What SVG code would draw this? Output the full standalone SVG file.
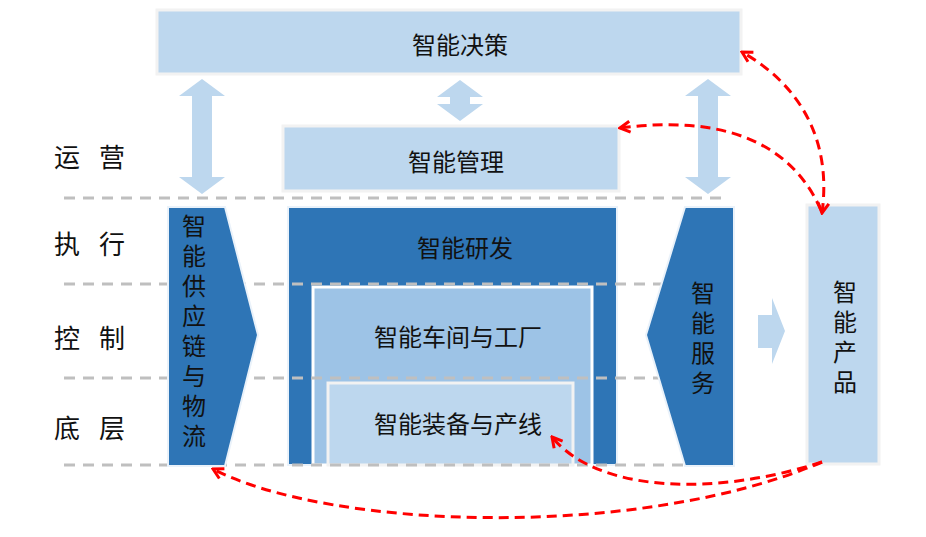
<svg xmlns="http://www.w3.org/2000/svg" width="926" height="537" viewBox="0 0 926 537">
<defs>
<style>
text{font-family:"Noto Sans CJK SC","Noto Sans",sans-serif;fill:#111;text-anchor:middle;dominant-baseline:central}
.t24{font-size:24px}
.lab{font-size:26px}
.vt{font-size:24px;writing-mode:vertical-rl;letter-spacing:6px}
.light{fill:#BDD7EE;stroke:#F2F2F2;stroke-width:3}
.mid{fill:#9DC3E6;stroke:#FFFFFF;stroke-width:3}
.inner{fill:#BDD7EE;stroke:#F2F2F2;stroke-width:3}
.dark{fill:#2E75B6;stroke:#EAF2FA;stroke-width:2}
.barrow{fill:#BDD7EE}
.grid{stroke:#BFBFBF;stroke-width:3;stroke-dasharray:11 8;fill:none}
.red{stroke:#FF0000;stroke-width:3;stroke-dasharray:10 6;fill:none}
</style>
<marker id="ah" viewBox="0 0 14 14" refX="12" refY="7" markerWidth="14" markerHeight="14" markerUnits="userSpaceOnUse" orient="auto-start-reverse">
<path d="M2,1.5 L12,7 L2,12.5" fill="none" stroke="#FF0000" stroke-width="3"/>
</marker>
</defs>
<rect width="926" height="537" fill="#FFFFFF"/>

<g id="labels">
<text class="lab" x="67" y="155">运</text><text class="lab" x="112" y="155">营</text>
<text class="lab" x="67" y="242">执</text><text class="lab" x="112" y="242">行</text>
<text class="lab" x="67" y="336">控</text><text class="lab" x="112" y="336">制</text>
<text class="lab" x="67" y="426">底</text><text class="lab" x="112" y="426">层</text>
</g>

<g id="decision">
<rect class="light" x="157" y="10" width="584" height="64"/>
<text class="t24" x="460" y="43">智能决策</text>
</g>

<g id="management">
<rect class="light" x="283" y="126" width="336" height="65"/>
<text class="t24" x="456" y="160">智能管理</text>
</g>

<g id="big-arrows">
<polygon class="barrow" points="202,79 225,96 212,96 212,177 225,177 202,194 179,177 192,177 192,96 179,96"/>
<polygon class="barrow" points="460,80 483,97 470,97 470,104 483,104 460,121 437,104 450,104 450,97 437,97"/>
<polygon class="barrow" points="708,79 731,96 718,96 718,177 731,177 708,194 685,177 698,177 698,96 685,96"/>
<polygon class="barrow" points="758,315 772,315 772,298 785,331 772,364 772,348 758,348"/>
</g>

<g id="rnd">
<rect class="dark" x="288" y="207" width="329" height="258"/>
<text class="t24" x="465" y="246">智能研发</text>
</g>

<g id="workshop">
<rect class="mid" x="313" y="287" width="279" height="178"/>
<text class="t24" x="458" y="335">智能车间与工厂</text>
</g>

<g id="equipment">
<rect class="inner" x="328" y="383" width="245" height="82"/>
<text class="t24" x="458" y="422">智能装备与产线</text>
</g>

<g id="gridlines">
<line class="grid" x1="64" y1="198" x2="728" y2="198"/>
<line class="grid" x1="64" y1="284" x2="728" y2="284"/>
<line class="grid" x1="64" y1="378" x2="728" y2="378"/>
<line class="grid" x1="64" y1="465" x2="728" y2="465"/>
</g>

<g id="supply">
<polygon class="dark" points="168,207 225,207 258,335 225,466 168,466"/>
<text class="vt" x="194" y="334">智能供应链与物流</text>
</g>

<g id="service">
<polygon class="dark" points="685,207 734,207 734,466 685,466 646,335"/>
<text class="vt" x="703" y="341">智能服务</text>
</g>

<g id="product">
<rect class="light" x="807" y="205" width="72" height="259"/>
<text class="vt" x="845" y="340">智能产品</text>
</g>

<g id="connectors">
<path class="red" d="M822,213 C832,140 800,85 742,52" marker-start="url(#ah)" marker-end="url(#ah)"/>
<path class="red" d="M821,210 C790,140 720,115 620,128" marker-end="url(#ah)"/>
<path class="red" d="M822,462 C640,540 330,530 213,469" marker-end="url(#ah)"/>
<path class="red" d="M822,462 C720,495 600,495 552,437" marker-end="url(#ah)"/>
</g>
</svg>
